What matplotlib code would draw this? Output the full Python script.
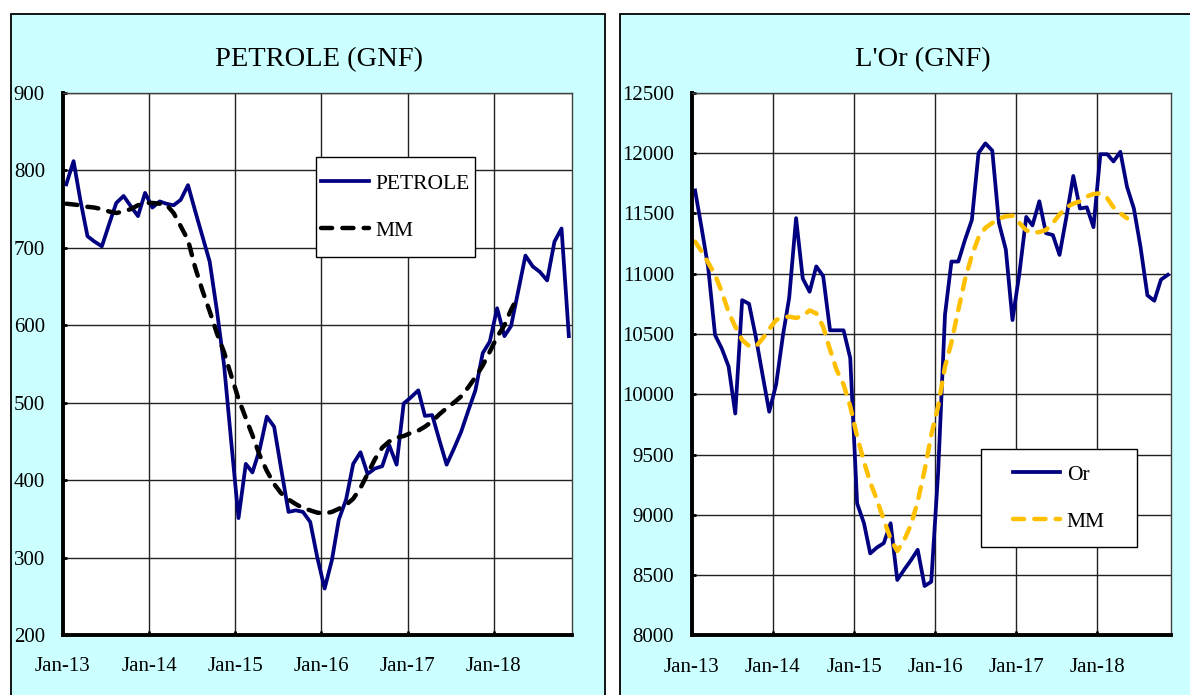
#!/usr/bin/env python3

import numpy as np
import pandas as pd
import matplotlib
matplotlib.use('Agg')
from matplotlib import pyplot as plt
import matplotlib.dates as mdates
from matplotlib.patches import Rectangle

plt.rcParams['font.family'] = ['Liberation Serif', 'DejaVu Serif']

# mois de Jan-13 a Nov-18 (points places au milieu du mois)
dates = pd.date_range('2013-01-01', periods=71, freq='MS') + pd.Timedelta(days=14)

petrole = [782, 812, 763, 715, 708, 702, 730, 758, 767, 754, 741, 771,
           752, 760, 757, 755, 762, 781, 748, 715, 682, 620, 548, 450,
           351, 421, 410, 440, 482, 469, 414, 359, 361, 359, 346, 300,
           260, 297, 349, 375, 421, 436, 408, 415, 418, 445, 420, 499,
           507, 516, 483, 484, 452, 420, 440, 462, 490, 516, 564, 579,
           622, 586, 599, 645, 690, 676, 669, 658, 708, 725, 586]

petrole_mm = [757, 756, 755, 753, 752, 750, 747, 745, 747, 750, 755, 758,
              758, 757, 756, 745, 728, 710, 675, 645, 618, 590, 565, 535,
              505, 480, 458, 432, 412, 395, 383, 375, 369, 364, 361, 358,
              357, 359, 363, 368, 376, 390, 408, 427, 442, 450, 455, 457,
              461, 464, 469, 476, 485, 493, 500, 508, 520, 533, 548, 566,
              585, 600, 620, 638]

or_gnf = [11690, 11360, 11050, 10490, 10380, 10230, 9840, 10780, 10750, 10480, 10160, 9855,
          10080, 10490, 10800, 11460, 10960, 10850, 11060, 10980, 10530, 10530, 10530, 10300,
          9095, 8930, 8680, 8730, 8765, 8930, 8460, 8545, 8625, 8710, 8410, 8445,
          9350, 10660, 11100, 11100, 11280, 11445, 12000, 12080, 12020, 11420, 11200, 10615,
          11000, 11470, 11400, 11600, 11335, 11320, 11155, 11470, 11810, 11540, 11550, 11385,
          11990, 11990, 11930, 12010, 11720, 11540, 11220, 10820, 10775, 10950, 10990]

or_mm = [11265, 11180, 11090, 10990, 10850, 10680, 10560, 10450, 10400, 10394, 10460, 10540,
         10615, 10640, 10643, 10632, 10650, 10695, 10670, 10560, 10370, 10200, 10080, 9900,
         9650, 9440, 9270, 9120, 8960, 8800, 8700, 8790, 8920, 9110, 9370, 9660,
         9900, 10228, 10430, 10700, 10950, 11150, 11300, 11380, 11420, 11455, 11475, 11480,
         11420, 11360, 11338, 11345, 11362, 11420, 11490, 11550, 11580, 11600, 11640, 11660,
         11666, 11625, 11550, 11500, 11459]

PANEL = '#CCFFFF'


def style_axes(ax, ymin, ymax, ystep):
    ax.set_zorder(2)
    ax.set_facecolor('white')
    ax.set_xlim(pd.Timestamp('2013-01-01'), pd.Timestamp('2018-11-28'))
    ax.set_ylim(ymin, ymax)
    ax.set_yticks(np.arange(ymin, ymax + 1, ystep))
    ax.xaxis.set_major_locator(mdates.YearLocator())
    ax.xaxis.set_major_formatter(mdates.DateFormatter('%b-%y'))
    ax.grid(True, color='#222222', lw=1.0)
    for s in ['left', 'bottom']:
        ax.spines[s].set_linewidth(2.8)
        ax.spines[s].set_color('black')
    for s in ['top', 'right']:
        ax.spines[s].set_linewidth(1.0)
        ax.spines[s].set_color('#404040')
    ax.tick_params(axis='y', direction='in', length=3, width=2, pad=13, labelsize=15)
    ax.tick_params(axis='x', direction='in', length=3, width=2, pad=16, labelsize=15)


def legend_box(ax, handles, labels, x0, y0, x1, y1):
    ax.add_patch(Rectangle((x0, y0), x1 - x0, y1 - y0, transform=ax.transAxes,
                           facecolor='white', edgecolor='black', lw=1.0, zorder=4))
    ax.legend(handles, labels, loc='center', bbox_to_anchor=((x0 + x1) / 2, (y0 + y1) / 2),
              frameon=False, fontsize=15.5, handlelength=2.2, handletextpad=0.3,
              labelspacing=1.25)


def main():
    fig = plt.figure(figsize=(11.9, 6.95), dpi=100)

    fig.patches.append(Rectangle((0.0092, -0.05), 0.4992, 1.03, transform=fig.transFigure,
                                 facecolor=PANEL, edgecolor='black', lw=1.3, zorder=-1))
    fig.patches.append(Rectangle((0.521, -0.05), 0.52, 1.03, transform=fig.transFigure,
                                 facecolor=PANEL, edgecolor='black', lw=1.3, zorder=-1))

    # PETROLE
    ax1 = fig.add_axes([0.0529, 0.0863, 0.4277, 0.7799])
    style_axes(ax1, 200, 900, 100)
    l1, = ax1.plot(dates, petrole, color='#000080', lw=2.7)
    l2, = ax1.plot(dates[:len(petrole_mm)], petrole_mm, color='black', lw=3.2,
                   linestyle=(0, (2.5, 2.3)), dash_capstyle='round')
    legend_box(ax1, [l1, l2], ['PETROLE', 'MM'], 0.497, 0.697, 0.809, 0.882)
    fig.text(0.268, 0.9137, 'PETROLE (GNF)', ha='center', va='center', fontsize=20.5)

    # OR
    ax2 = fig.add_axes([0.5815, 0.0857, 0.4023, 0.7809])
    style_axes(ax2, 8000, 12500, 500)
    l3, = ax2.plot(dates, or_gnf, color='#000080', lw=2.7)
    l4, = ax2.plot(dates[:len(or_mm)], or_mm, color='#FFC000', lw=3.2,
                   linestyle=(0, (2.5, 2.3)), dash_capstyle='round')
    legend_box(ax2, [l3, l4], ['Or', 'MM'], 0.6037, 0.1634, 0.9296, 0.343)
    fig.text(0.7756, 0.9137, "L'Or (GNF)", ha='center', va='center', fontsize=20.5)

    fig.savefig('out.png', dpi=100)
    plt.close(fig)


if __name__ == '__main__':
    main()
